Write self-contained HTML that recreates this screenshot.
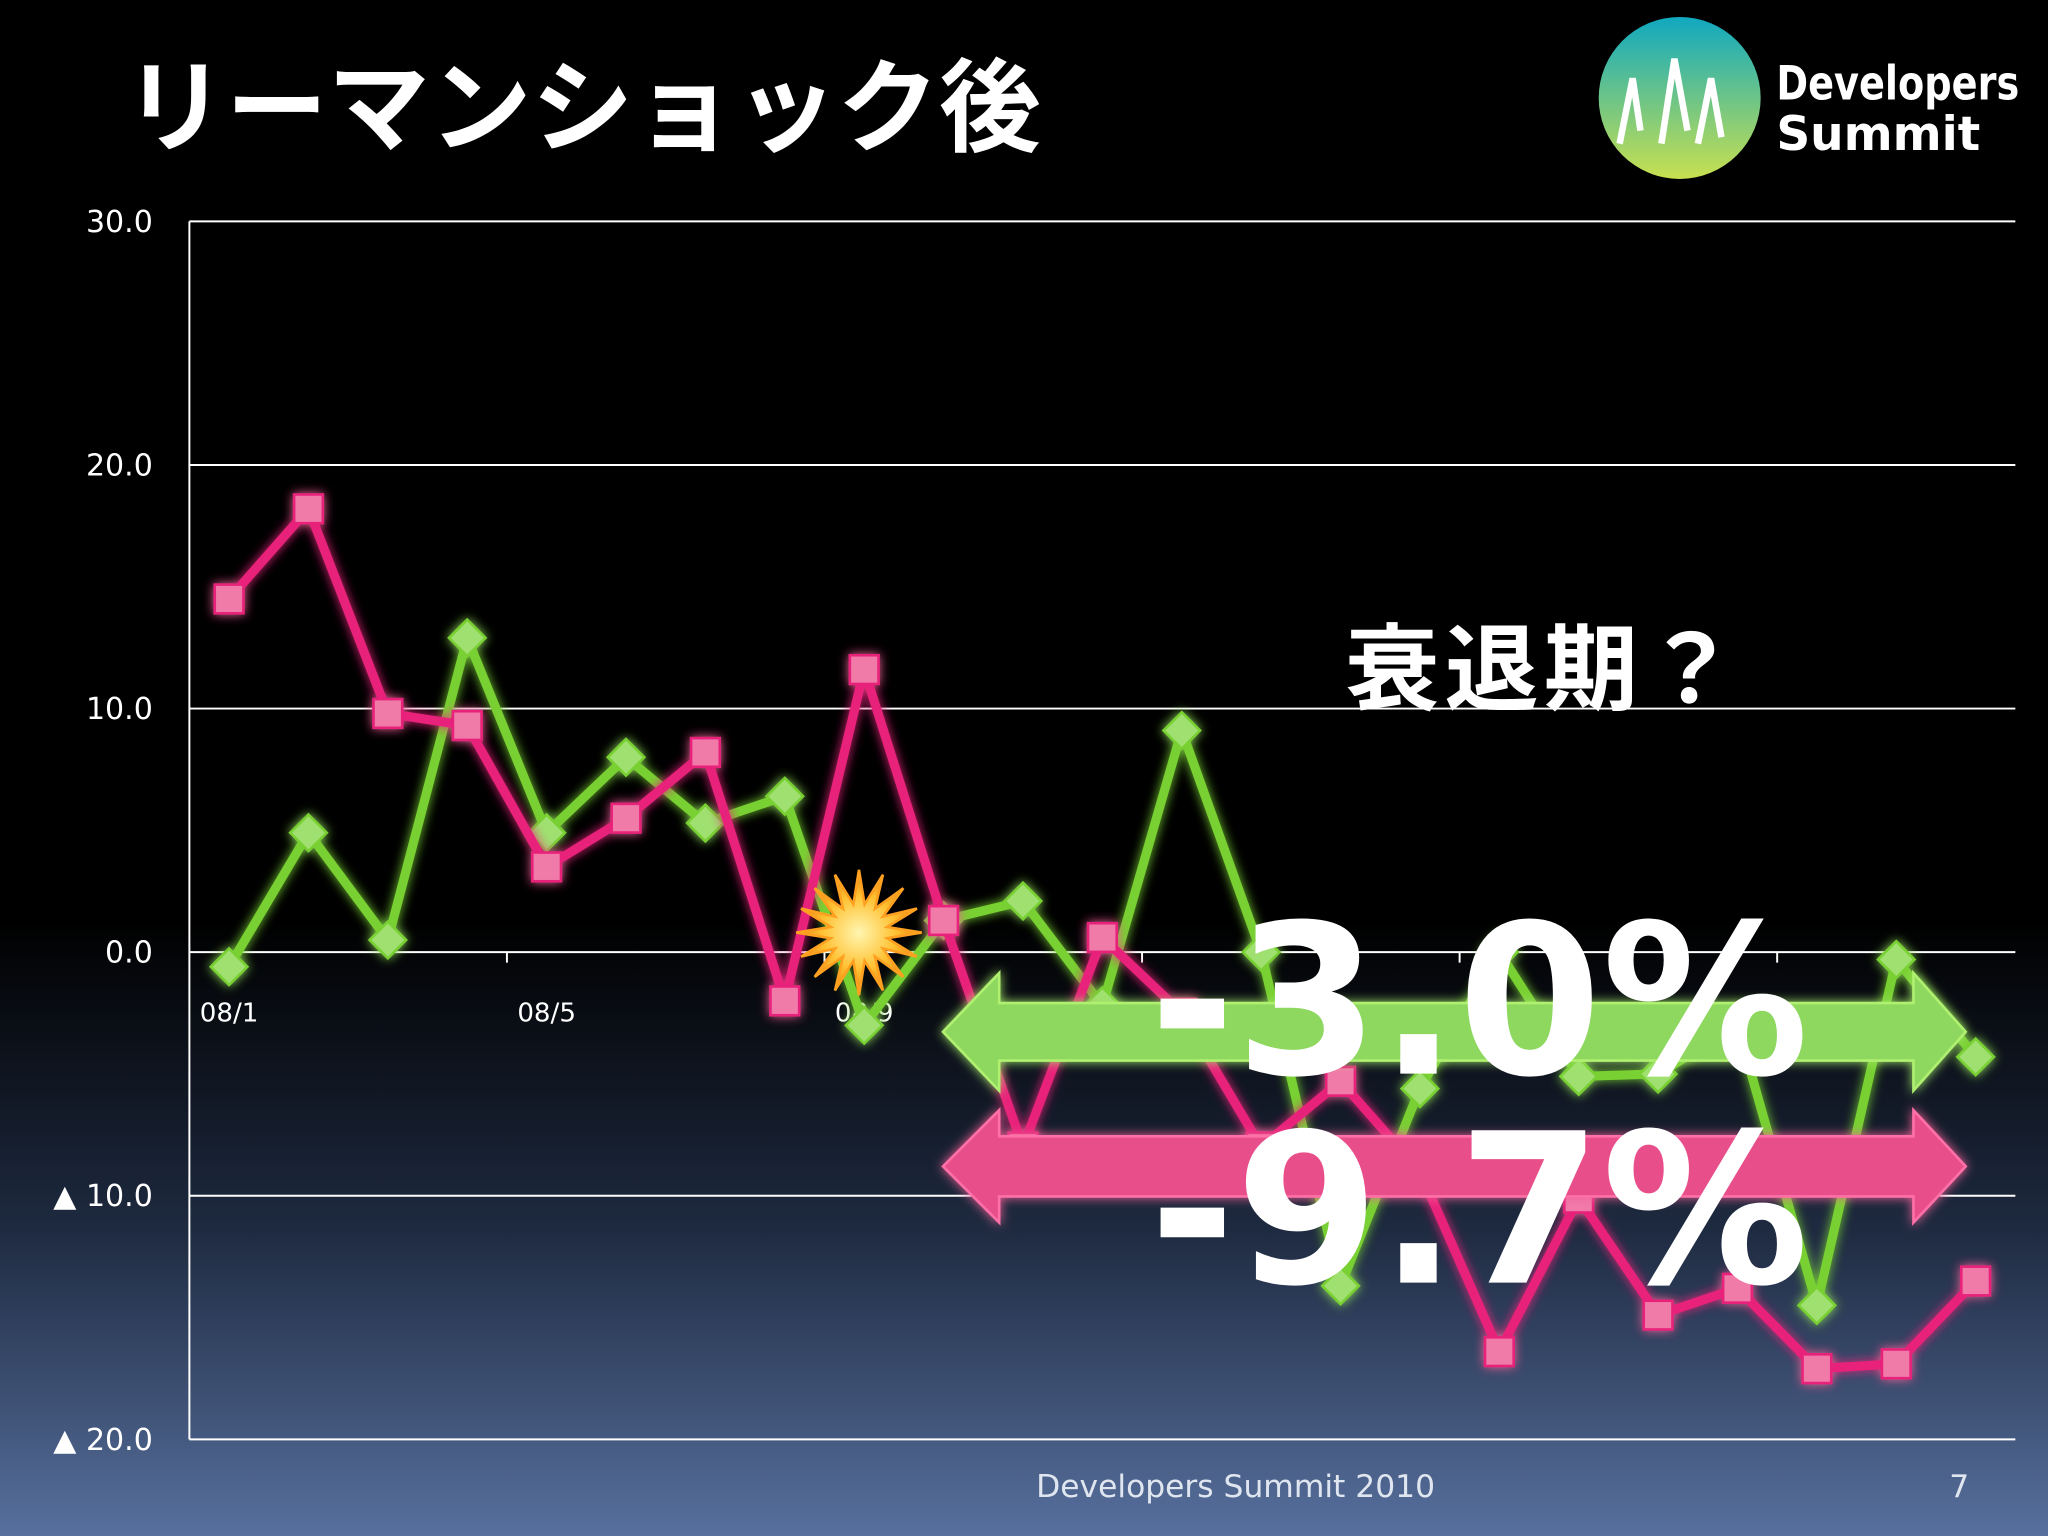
<!DOCTYPE html>
<html><head><meta charset="utf-8"><style>
html,body{margin:0;padding:0;background:#000;width:2048px;height:1536px;overflow:hidden}
svg{display:block}
text{font-family:"DejaVu Sans","Liberation Sans","Noto Sans CJK JP",sans-serif}
</style></head><body>
<svg id="chart" width="2048" height="1536" viewBox="0 0 1568 1176" xmlns="http://www.w3.org/2000/svg">
<defs>
<linearGradient id="bg" x1="0" y1="0" x2="0" y2="1">
<stop offset="0" stop-color="#000"/><stop offset="0.6" stop-color="#000"/><stop offset="0.8" stop-color="#1e2a40"/><stop offset="1" stop-color="#57709e"/></linearGradient>
<linearGradient id="logoG" x1="0" y1="0" x2="0" y2="1"><stop offset="0" stop-color="#10a8c0"/><stop offset="1" stop-color="#c8e050"/></linearGradient>
<filter id="glow" x="-20%" y="-50%" width="140%" height="200%"><feGaussianBlur stdDeviation="4" result="b"/><feMerge><feMergeNode in="b"/><feMergeNode in="SourceGraphic"/></feMerge></filter>
<radialGradient id="burst"><stop offset="0" stop-color="#fff6b0"/><stop offset="0.6" stop-color="#ffc030"/><stop offset="1" stop-color="#e08010"/></radialGradient>
</defs>
<rect width="1568" height="1176" fill="url(#bg)"/>
<text x="95" y="110" fill="#fff" font-size="78" font-weight="bold">リーマンショック後</text>
<g>
<circle cx="1286" cy="75" r="62" fill="url(#logoG)"/>
<path d="M1240 110 L1250 60 L1256 100 M1272 110 L1282 45 L1292 100 M1300 110 L1310 60 L1318 105" stroke="#fff" stroke-width="5" fill="none"/>
<text x="1360" y="76" fill="#fff" font-size="36" font-family="Liberation Sans" font-weight="bold" textLength="186" lengthAdjust="spacingAndGlyphs">Developers</text>
<text x="1360" y="115" fill="#fff" font-size="36" font-family="Liberation Sans" font-weight="bold">Summit</text>
</g>
<g id="grid"></g>
<g id="series"></g>
<text x="1030" y="538" fill="#fff" font-size="72" font-weight="bold" textLength="300">衰退期？</text>
<g id="burstg"></g>
<g filter="url(#glow)">
<polygon points="722,790 765,745 765,768 1465,768 1465,745 1505,790 1465,835 1465,812 765,812 765,835" fill="#8ed860" stroke="#b0f070" stroke-width="2"/>
</g>
<g filter="url(#glow)">
<polygon points="722,893 765,850 765,870 1465,870 1465,850 1505,893 1465,936 1465,916 765,916 765,936" fill="#e8508a" stroke="#ff70a8" stroke-width="2"/>
</g>
<text x="880" y="822" fill="#fff" font-size="160" font-weight="bold" textLength="505" lengthAdjust="spacingAndGlyphs">-3.0%</text>
<text x="880" y="982" fill="#fff" font-size="160" font-weight="bold" textLength="505" lengthAdjust="spacingAndGlyphs">-9.7%</text>
<text x="946" y="1146" fill="#e0e6f0" font-size="24" text-anchor="middle">Developers Summit 2010</text>
<text x="1500" y="1146" fill="#e0e6f0" font-size="24" text-anchor="middle">7</text>
</svg>
<script>
const yTicks=[30,20,10,0,-10,-20];
const yTickLabels=["30.0","20.0","10.0","0.0","▲ 10.0","▲ 20.0"];
const xLabels=["08/1","08/5","08/9","09/1","09/5","09/9"];
const pinkVals=[14.5,18.2,9.8,9.3,3.5,5.5,8.2,-2.0,11.6,1.3,-8.0,0.6,-2.5,-8.0,-5.3,-9.0,-16.4,-10.1,-14.9,-13.8,-17.1,-16.9,-13.5];
const greenVals=[-0.6,4.9,0.5,12.9,4.9,8.0,5.3,6.4,-3.0,1.3,2.1,-2.2,9.1,0.0,-13.7,-5.6,0.0,-5.1,-5.0,-3.0,-14.5,-0.3,-4.3];
const NS="http://www.w3.org/2000/svg";
const X0=145,X1=1543,N=23;
function xs(i){return X0+(X1-X0)/N*(i+0.5);}
function ys(v){return 729-v*18.65;}
function mk(tag,attrs,parent){const e=document.createElementNS(NS,tag);for(const k in attrs)e.setAttribute(k,attrs[k]);parent.appendChild(e);return e;}
const grid=document.getElementById('grid');
yTicks.forEach((t,i)=>{
 const l=mk('line',{x1:X0,x2:X1,y1:ys(t),y2:ys(t),stroke:'#fff','stroke-width':1.5},grid);
 
 
 const tx=mk('text',{x:117,y:ys(t)+8,fill:'#fff','font-size':23,'text-anchor':'end'},grid);
 tx.textContent=yTickLabels[i];
 
 
});
const ax=mk('line',{x1:X0,x2:X0,y1:ys(30),y2:ys(-20),stroke:'#fff','stroke-width':1.5},grid);


xLabels.forEach((lab,k)=>{
 const i=k*4;
 const tx=mk('text',{x:xs(i),y:782,fill:'#fff','font-size':20,'text-anchor':'middle'},grid);
 tx.textContent=lab;
 
 
 if(k>0){const tk=mk('line',{x1:xs(i)-30.4,x2:xs(i)-30.4,y1:729,y2:737,stroke:'#fff','stroke-width':1.5},grid);
 
 }
});
const ser=document.getElementById('series');
function drawSeries(vals,color,markFill,shape,name){
 const g=mk('g',{filter:'url(#glow)'},ser);
 
 
 const pl=mk('polyline',{points:vals.map((v,i)=>xs(i)+','+ys(v)).join(' '),fill:'none',stroke:color,'stroke-width':7,'stroke-linejoin':'round'},g);
 
 
 vals.forEach((v,i)=>{
  const x=xs(i),y=ys(v);let m;
  if(shape==='sq') m=mk('rect',{x:x-11,y:y-11,width:22,height:22,fill:markFill,stroke:color,'stroke-width':2},g);
  else m=mk('polygon',{points:`${x},${y-14} ${x+14},${y} ${x},${y+14} ${x-14},${y}`,fill:markFill,stroke:color,'stroke-width':2},g);
  
  
 });
}
drawSeries(greenVals,'#78d030','#a0e070','dia','green');
drawSeries(pinkVals,'#e8207a','#f07aa8','sq','pink');
const bg=document.getElementById('burstg');
let pts=[];for(let k=0;k<32;k++){const r=k%2?22:48,a=k*Math.PI/16;pts.push((xs(8)-4+r*Math.cos(a))+','+(714+r*Math.sin(a)));}
const b=mk('polygon',{points:pts.join(' '),fill:'url(#burst)',stroke:'#ffa020','stroke-width':2},bg);


</script>
</body></html>
